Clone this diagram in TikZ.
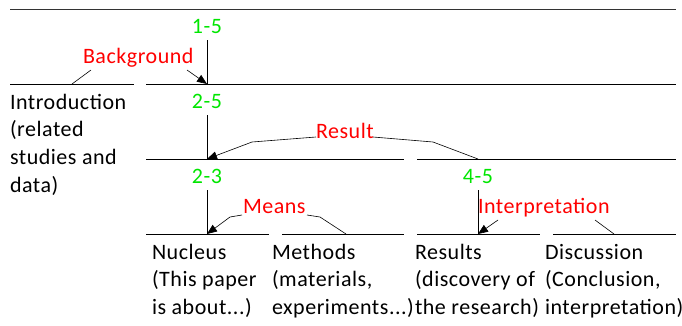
\documentclass[tikz,border=0pt]{standalone}
\usepackage{fontspec}
\setmainfont{Carlito}[LetterSpace=2.4]
\usetikzlibrary{arrows.meta}
\definecolor{lblgreen}{RGB}{0,230,0}
\definecolor{lblred}{RGB}{255,0,0}
\begin{document}
\begin{tikzpicture}[x=1pt,y=-1pt,
  every node/.style={inner sep=0pt,outer sep=0pt},
  txt/.style={font=\fontsize{22}{27.8}\selectfont,align=left,anchor=base west},
  rng/.style={font=\fontsize{22}{26}\selectfont,text=lblgreen,anchor=base},
  lbl/.style={font=\fontsize{22}{26}\selectfont,text=lblred,anchor=base west},
  rule/.style={line width=0.8pt},
  conn/.style={line width=0.6pt},
  arr/.style={line width=0.6pt,-{Triangle[length=10pt,width=8pt]}}]
\useasboundingbox (0,0) rectangle (682,325);
% horizontal rules
\draw[line width=1.2pt,black!80] (10,9.5) -- (676,9.5);
\draw[rule] (10,84) -- (134,84);
\draw[rule] (146,84) -- (676,84);
\draw[rule] (146,159) -- (404,159);
\draw[rule] (417,159) -- (676,159);
\draw[rule] (146,234) -- (269,234);
\draw[rule] (282,234) -- (404,234);
\draw[rule] (417,234) -- (540,234);
\draw[rule] (553,234) -- (676,234);
% points
\coordinate (p1) at (207,84);
\coordinate (p2) at (207,159);
\coordinate (p3) at (207,234);
\coordinate (p4) at (478,234);
\coordinate (q2) at (478,159);
% range labels
\node[rng] (n15) at (207,33) {1-5};
\node[rng] (n25) at (207,108) {2-5};
\node[rng] (n23) at (207,183) {2-3};
\node[rng] (n45) at (478,183) {4-5};
\draw[rule] (207,40) -- (p1);
\draw[rule] (207,115) -- (p2);
\draw[rule] (207,190) -- (p3);
\draw[rule] (478,190) -- (p4);
% red labels
\node[lbl] (bg) at (83,63) {Background};
\node[lbl] (res) at (316,138) {Result};
\node[lbl] (means) at (243,213) {Means};
\node[lbl] (interp) at (478,213) {Interpretation};
\coordinate (bgA) at (91,70);  \coordinate (bgB) at (72,84);
\coordinate (bgC) at (187,70);
\draw[conn] (bgA) -- (bgB);
\draw[arr] (bgC) -- (p1);
\coordinate (rA) at (316,137); \coordinate (rB) at (252,142);
\coordinate (rC) at (373,137); \coordinate (rD) at (433,142);
\draw[arr] (rA) -- (rB) -- (p2);
\draw[conn] (rC) -- (rD) -- (q2);
\coordinate (mA) at (242,215); \coordinate (mB) at (230,217);
\coordinate (mC) at (307,215); \coordinate (mD) at (320,217);
\coordinate (mE) at (346,234);
\draw[arr] (mA) -- (mB) -- (p3);
\draw[conn] (mC) -- (mD) -- (mE);
\coordinate (iA) at (498,220); \coordinate (iC) at (595,220);
\coordinate (iD) at (614,234);
\draw[arr] (iA) -- (p4);
\draw[conn] (iC) -- (iD);
% body texts (anchored at the baseline of their last line)
\node[txt] (intro) at (10,192.4) {Introduction\\(related\\studies and\\data)};
\node[txt] (nuc) at (152,314.6) {Nucleus\\(This paper\\is about...)};
\node[txt] (meth) at (272,314.6) {Methods\\(materials,\\experiments...)};
\node[txt] (resu) at (415,314.6) {Results\\(discovery of\\the research)};
\node[txt] (disc) at (545,314.6) {Discussion\\(Conclusion,\\interpretation)};
\end{tikzpicture}
\end{document}
